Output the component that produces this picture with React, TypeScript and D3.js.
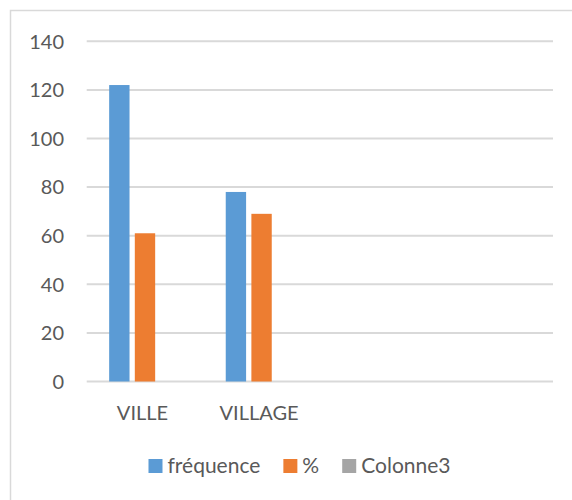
import React, { useEffect, useRef } from "react";
import * as d3 from "d3";

// Chart data
const categories = ["VILLE", "VILLAGE", "", ""];
const seriesNames = ["fréquence", "%", "Colonne3"];
const frequence: (number | null)[] = [122, 78, null, null];
const pourcent: (number | null)[] = [61, 69, null, null];
const colonne3: (number | null)[] = [null, null, null, null];
const yTicks = [0, 20, 40, 60, 80, 100, 120, 140];

const seriesValues = [frequence, pourcent, colonne3];
const colors = ["#5B9BD5", "#ED7D31", "#A5A5A5"];

const W = 572;
const H = 500;
const FONT = "Lato, 'Open Sans', sans-serif";
const TEXT = "#595959";
const GRID = "#D9D9D9";

export default function App() {
  const ref = useRef<SVGSVGElement | null>(null);

  useEffect(() => {
    const svg = d3.select(ref.current);
    svg.selectAll("*").remove();

    // chart frame (right and bottom edges run past the visible area)
    svg
      .append("rect")
      .attr("x", 10.5)
      .attr("y", 10.5)
      .attr("width", 600)
      .attr("height", 520)
      .attr("fill", "#fff")
      .attr("stroke", GRID)
      .attr("stroke-width", 1.5);

    const plot = { left: 86.7, right: 553, top: 41.3, bottom: 381.5 };

    const y = d3.scaleLinear().domain([0, 140]).range([plot.bottom, plot.top]);
    const x0 = d3
      .scaleBand<number>()
      .domain(d3.range(categories.length))
      .range([plot.left, plot.right])
      .paddingInner(0)
      .paddingOuter(0);
    const x1 = d3
      .scaleBand<number>()
      .domain(d3.range(seriesNames.length))
      .range([0, x0.bandwidth()])
      .paddingInner(0.206)
      .paddingOuter(0.876);

    // gridlines
    svg
      .append("g")
      .selectAll("line")
      .data(yTicks)
      .join("line")
      .attr("x1", plot.left)
      .attr("x2", plot.right)
      .attr("y1", (d) => y(d))
      .attr("y2", (d) => y(d))
      .attr("stroke", GRID)
      .attr("stroke-width", 2);

    // y tick labels
    svg
      .append("g")
      .selectAll("text")
      .data(yTicks)
      .join("text")
      .attr("x", 64)
      .attr("y", (d) => y(d))
      .attr("dy", "0.36em")
      .attr("text-anchor", "end")
      .attr("font-family", FONT)
      .attr("font-size", 20)
      .attr("fill", TEXT)
      .text((d) => String(d));

    // bars
    const barData: { c: number; s: number; v: number }[] = [];
    seriesValues.forEach((vals, s) =>
      vals.forEach((v, c) => {
        if (v != null) barData.push({ c, s, v });
      })
    );
    svg
      .append("g")
      .selectAll("rect")
      .data(barData)
      .join("rect")
      .attr("x", (d) => (x0(d.c) as number) + (x1(d.s) as number))
      .attr("width", x1.bandwidth())
      .attr("y", (d) => y(d.v))
      .attr("height", (d) => y(0) - y(d.v))
      .attr("fill", (d) => colors[d.s]);

    // category labels
    svg
      .append("g")
      .selectAll("text")
      .data(categories)
      .join("text")
      .attr("x", (_, i) => (x0(i) as number) + x0.bandwidth() / 2 - 2.5)
      .attr("y", 420)
      .attr("text-anchor", "middle")
      .attr("font-family", FONT)
      .attr("font-size", 20)
      .attr("fill", TEXT)
      .text((d) => d);

    // legend
    const legend = svg.append("g");
    const sw = 14;
    const gapText = 5;
    const gapItem = 23;
    let cx = 0;
    seriesNames.forEach((name, i) => {
      const g = legend.append("g");
      g.append("rect")
        .attr("x", 0)
        .attr("y", -14)
        .attr("width", sw)
        .attr("height", sw)
        .attr("fill", colors[i]);
      const t = g
        .append("text")
        .attr("x", sw + gapText)
        .attr("y", 0)
        .attr("font-family", FONT)
        .attr("font-size", 21)
        .attr("fill", TEXT)
        .text(name);
      const tw = (t.node() as SVGTextElement).getComputedTextLength();
      g.attr("transform", `translate(${cx},0)`);
      cx += sw + gapText + tw + gapItem;
    });
    const total = cx - gapItem;
    legend.attr("transform", `translate(${299.5 - total / 2},473)`);
  }, []);

  return (
    <svg
      ref={ref}
      width={W}
      height={H}
      style={{ position: "absolute", left: 0, top: 0, background: "#fff" }}
    />
  );
}
